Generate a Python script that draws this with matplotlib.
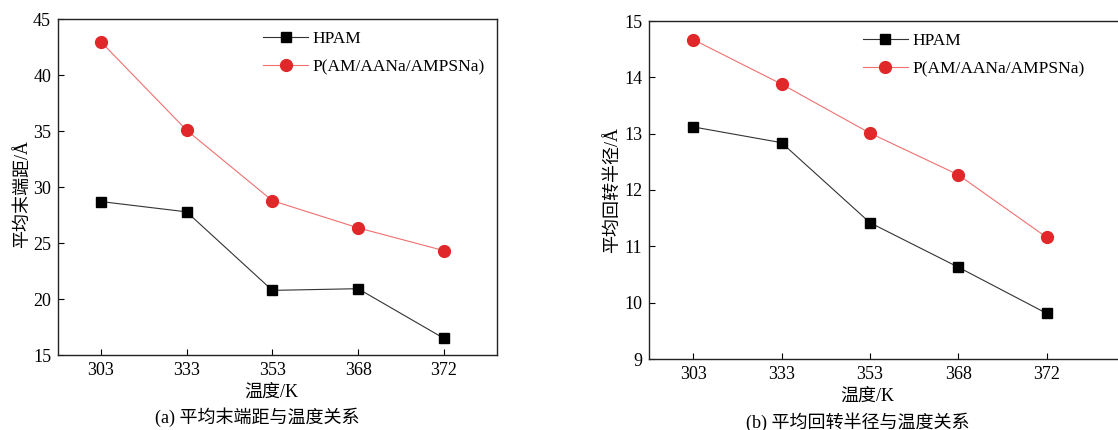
import matplotlib
matplotlib.use("Agg")
import matplotlib.pyplot as plt

plt.rcParams['font.family'] = ['Liberation Serif', 'Noto Sans CJK SC']
plt.rcParams['axes.unicode_minus'] = False

temps = ['303', '333', '353', '368', '372']
hpam_end = [28.7, 27.78, 20.77, 20.92, 16.49]
copoly_end = [42.97, 35.07, 28.78, 26.35, 24.32]
hpam_rg = [13.12, 12.84, 11.42, 10.63, 9.81]
copoly_rg = [14.67, 13.88, 13.01, 12.27, 11.16]
series_names = ['HPAM', 'P(AM/AANa/AMPSNa)']

W, H = 1118, 430
fig = plt.figure(figsize=(W / 100, H / 100), dpi=100)

def px_axes(x0, x1, ytop, ybot):
    return fig.add_axes([x0 / W, 1 - ybot / H, (x1 - x0) / W, (ybot - ytop) / H])

ax1 = px_axes(58, 497, 19, 355)
ax2 = px_axes(649, 1135, 21, 359)

red = '#e0282a'
xs = list(range(len(temps)))

for ax, h, c, ylim, yticks, ylabel, xlim_r in [
    (ax1, hpam_end, copoly_end, (15, 45), range(15, 46, 5), '平均末端距/Å', 4.62),
    (ax2, hpam_rg, copoly_rg, (9, 15), range(9, 16, 1), '平均回转半径/Å', 5.0),
]:
    ax.plot(xs, h, color='#333333', lw=0.8, marker='s', ms=7.5,
            mfc='black', mec='black', label=series_names[0])
    ax.plot(xs, c, color='#f07070', lw=0.8, marker='o', ms=8.5,
            mfc=red, mec=red, label=series_names[1])
    ax.set_xlim(-0.5, xlim_r)
    ax.set_ylim(*ylim)
    ax.set_xticks(xs)
    ax.set_xticklabels(temps)
    ax.set_yticks(list(yticks))
    ax.tick_params(direction='in', length=4, width=0.8, labelsize=13,
                   top=False, right=False, pad=5)
    for s in ax.spines.values():
        s.set_linewidth(1.0)
        s.set_color('#222222')
    ax.set_ylabel(ylabel, fontsize=13)
    ax.set_xlabel('温度/K', fontsize=13)
    ax.legend(loc='upper left', frameon=False, fontsize=12.5,
              handlelength=2.6, handletextpad=0.25, labelspacing=0.7,
              borderpad=0, borderaxespad=0,
              bbox_to_anchor=(0.467 if ax is ax1 else 0.440, 0.965))

ax1.yaxis.set_label_coords(-0.062, 0.48)
ax2.yaxis.set_label_coords(-0.058, 0.5)
ax1.xaxis.set_label_coords(0.487, -0.085)
ax2.xaxis.set_label_coords(0.45, -0.085)

fig.text(257 / W, 1 - 417 / H, '(a) 平均末端距与温度关系', ha='center', va='center', fontsize=13)
fig.text(858 / W, 1 - 422 / H, '(b) 平均回转半径与温度关系', ha='center', va='center', fontsize=13)

fig.savefig('out.png', dpi=100)
